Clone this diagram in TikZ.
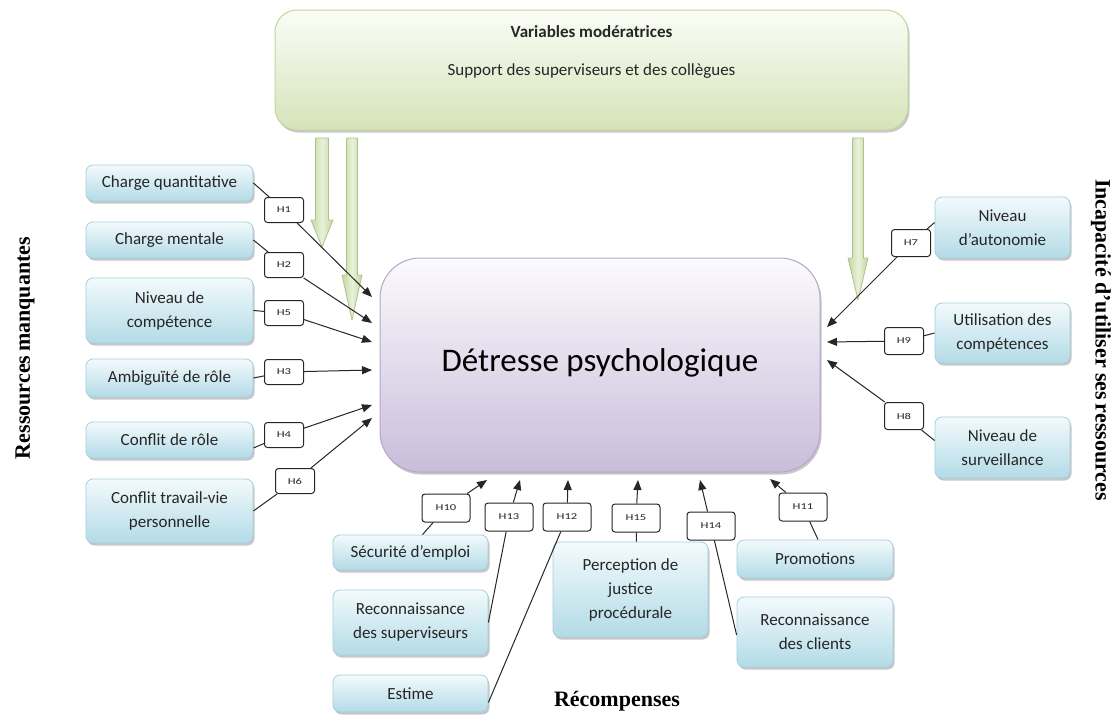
\documentclass[tikz,border=0pt]{standalone}
\usepackage{fontspec}
\setmainfont{Carlito}
\newfontfamily\titlefont{Liberation Serif}
\usetikzlibrary{shadows,arrows.meta,calc}

\definecolor{bluetop}{HTML}{F3FAFC}
\definecolor{bluebot}{HTML}{B3DBE7}
\definecolor{blueedge}{HTML}{A3CFDE}
\definecolor{greentop}{HTML}{FBFDF6}
\definecolor{greenbot}{HTML}{D5E3B9}
\definecolor{greenedge}{HTML}{C3D69B}
\definecolor{arrowside}{HTML}{C4D89E}
\definecolor{arrowmid}{HTML}{E9F1DA}
\definecolor{purpletop}{HTML}{FBFAFD}
\definecolor{purplebot}{HTML}{C9BDDA}
\definecolor{purpleedge}{HTML}{B6A6CC}
\definecolor{textgray}{HTML}{262626}
\definecolor{linegray}{HTML}{262626}

% horizontally widened hypothesis tag text
\newcommand\hyptext[1]{\scalebox{1.4}[1]{#1}}

% downward moderator arrow: x, top y, tip y, head start y, shaft half width, head half width
\newcommand\moddown[6]{%
  \shade[left color=arrowside, right color=arrowside, middle color=arrowmid,
         draw=greenedge!90!black, line width=0.8pt, line join=round]
    (#1-#5,#2) -- (#1+#5,#2) -- (#1+#5,#4) -- (#1+#6,#4) -- (#1,#3)
    -- (#1-#6,#4) -- (#1-#5,#4) -- cycle;}

\begin{document}
\begin{tikzpicture}[x=1pt,y=-1pt,
  softshadow/.style={drop shadow={shadow xshift=1.5pt, shadow yshift=-2.5pt,
      opacity=0.22, fill=black}},
  blubox/.style={draw=blueedge, line width=0.8pt, rounded corners=7pt,
      top color=bluetop, bottom color=bluebot, align=center, text=textgray,
      font=\fontsize{17}{24}\selectfont, inner sep=2pt, softshadow},
  hlab/.style={draw=linegray, line width=1pt, rounded corners=3pt, fill=white,
      minimum width=39pt, minimum height=25pt, inner sep=1pt, text=textgray,
      font=\fontsize{9}{10}\selectfont},
  hlabb/.style={hlab, minimum width=48pt, minimum height=28pt},
  link/.style={draw=linegray, line width=1pt},
  hyp/.style={link, -{Triangle[length=10pt,width=8pt]}},
  sidetitle/.style={font=\titlefont\bfseries\fontsize{22}{24}\selectfont, text=black}
]
\useasboundingbox (0,0) rectangle (1114,715);

% moderator box
\node[draw=greenedge, line width=1pt, rounded corners=22pt, top color=greentop,
      bottom color=greenbot, minimum width=633pt, minimum height=120pt, softshadow]
  (mod) at (591.5,70) {};
\node[font=\bfseries\fontsize{17}{20}\selectfont, text=textgray] (modtitle) at (591.5,32) {Variables modératrices};
\node[font=\fontsize{17}{20}\selectfont, text=textgray] (modtext) at (591.5,71) {Support des superviseurs et des collègues};

% moderator arrows
\moddown{322}{138}{247}{220}{6.5}{11}
\moddown{352}{138}{320}{275}{5.5}{10}
\moddown{858}{138}{300}{258}{5.5}{10}

% central construct
\node[draw=purpleedge, line width=1pt, rounded corners=40pt, top color=purpletop,
      bottom color=purplebot, minimum width=440pt, minimum height=214pt,
      font=\fontsize{33}{36}\selectfont, softshadow]
  (dp) at (600,365) {\raisebox{9pt}{Détresse psychologique}};

% missing resources
\node[blubox, minimum width=167pt, minimum height=36pt] (cq)  at (169.5,183) {Charge quantitative};
\node[blubox, minimum width=167pt, minimum height=36pt] (cm)  at (169.5,240) {Charge mentale};
\node[blubox, minimum width=167pt, minimum height=65pt] (nc)  at (169.5,310.5) {Niveau de\\compétence};
\node[blubox, minimum width=167pt, minimum height=38pt] (ar)  at (169.5,378) {Ambiguïté de rôle};
\node[blubox, minimum width=167pt, minimum height=36pt] (cr)  at (169.5,440) {Conflit de rôle};
\node[blubox, minimum width=167pt, minimum height=64pt] (ctv) at (169.5,511) {Conflit travail-vie\\personnelle};

% inability to use one's resources
\node[blubox, minimum width=135pt, minimum height=61pt] (na) at (1002.5,227.5) {Niveau\\d’autonomie};
\node[blubox, minimum width=135pt, minimum height=60pt] (uc) at (1002.5,333) {Utilisation des\\compétences};
\node[blubox, minimum width=135pt, minimum height=61pt] (ns) at (1002.5,447.5) {Niveau de\\surveillance};

% rewards
\node[blubox, minimum width=155pt, minimum height=35pt] (se) at (410.5,552.5) {Sécurité d’emploi};
\node[blubox, minimum width=155pt, minimum height=65pt] (rs) at (410.5,622.5) {Reconnaissance\\des superviseurs};
\node[blubox, minimum width=155pt, minimum height=37pt] (es) at (410.5,693.5) {Estime};
\node[blubox, minimum width=155pt, minimum height=95pt] (pj) at (630.5,589.5) {Perception de\\justice\\procédurale};
\node[blubox, minimum width=156pt, minimum height=38pt] (pr) at (815,559) {Promotions};
\node[blubox, minimum width=156pt, minimum height=70pt] (rc) at (815,632) {Reconnaissance\\des clients};

% arrow tips on the central construct
\coordinate (t1) at (372,297);
\coordinate (t2) at (372,323);
\coordinate (t5) at (372,342);
\coordinate (t3) at (372,370);
\coordinate (t4) at (372,405);
\coordinate (t6) at (372,418);
\coordinate (t7) at (827,327);
\coordinate (t9) at (827,342);
\coordinate (t8) at (827,360);
\coordinate (t10) at (487,480);
\coordinate (t13) at (520,480);
\coordinate (t12) at (568,480);
\coordinate (t15) at (638,480);
\coordinate (t14) at (700,480);
\coordinate (t11) at (770,479);

% hypothesis tags
\node[hlab] (h1) at (284,210) {\hyptext{H1}};
\node[hlab] (h2) at (284,265) {\hyptext{H2}};
\node[hlab] (h5) at (284,313) {\hyptext{H5}};
\node[hlab] (h3) at (284,372) {\hyptext{H3}};
\node[hlab] (h4) at (284,435) {\hyptext{H4}};
\node[hlab] (h6) at (295,481) {\hyptext{H6}};
\node[hlab, minimum height=27pt] (h7) at (911,243) {\hyptext{H7}};
\node[hlab, minimum height=27pt] (h9) at (904,341) {\hyptext{H9}};
\node[hlab, minimum height=27pt] (h8) at (904,416) {\hyptext{H8}};
\node[hlabb] (h10) at (446,508) {\hyptext{H10}};
\node[hlabb] (h13) at (509,517) {\hyptext{H13}};
\node[hlabb] (h12) at (567,517) {\hyptext{H12}};
\node[hlabb] (h15) at (636,518) {\hyptext{H15}};
\node[hlabb] (h14) at (711,526) {\hyptext{H14}};
\node[hlabb] (h11) at (803,507) {\hyptext{H11}};

% connectors: source box -> tag -> central construct
\draw[link] (cq.east) -- (h1);   \draw[hyp] (h1) -- (t1);
\draw[link] (cm.east) -- (h2);   \draw[hyp] (h2) -- (t2);
\draw[link] (nc.east) -- (h5);   \draw[hyp] (h5) -- (t5);
\draw[link] (ar.east) -- (h3);   \draw[hyp] (h3) -- (t3);
\draw[link] ($(cr.east)+(0,8)$) -- (h4);   \draw[hyp] (h4) -- (t4);
\draw[link] (ctv.east) -- (h6);  \draw[hyp] (h6) -- (t6);

\draw[link] ($(na.west)+(0,-5)$) -- (h7);   \draw[hyp] (h7) -- (t7);
\draw[link] (uc.west) -- (h9);   \draw[hyp] (h9) -- (t9);
\draw[link] ($(ns.west)+(0,-7)$) -- (h8);   \draw[hyp] (h8) -- (t8);

\draw[link] ($(se.north)+(12,0)$) -- (h10);  \draw[hyp] (h10) -- (t10);
\draw[link] (rs.east) -- (h13);  \draw[hyp] (h13) -- (t13);
\draw[link] ($(es.east)+(0,9)$) -- (h12);  \draw[hyp] (h12) -- (t12);
\draw[link] ($(pj.north)+(6,0)$) -- (h15);  \draw[hyp] (h15) -- (t15);
\draw[link] ($(rc.west)+(0,3)$) -- (h14);  \draw[hyp] (h14) -- (t14);
\draw[link] ($(pr.north)+(3,0)$) -- (h11);  \draw[hyp] (h11) -- (t11);

% group titles
\node[sidetitle, rotate=90] (left) at (25,348) {Ressources\,manquantes};
\node[sidetitle, rotate=-90] (right) at (1101,340) {Incapacité d’utiliser ses\,ressources};
\node[sidetitle] (bottom) at (617,701) {Récompenses};
\end{tikzpicture}
\end{document}
